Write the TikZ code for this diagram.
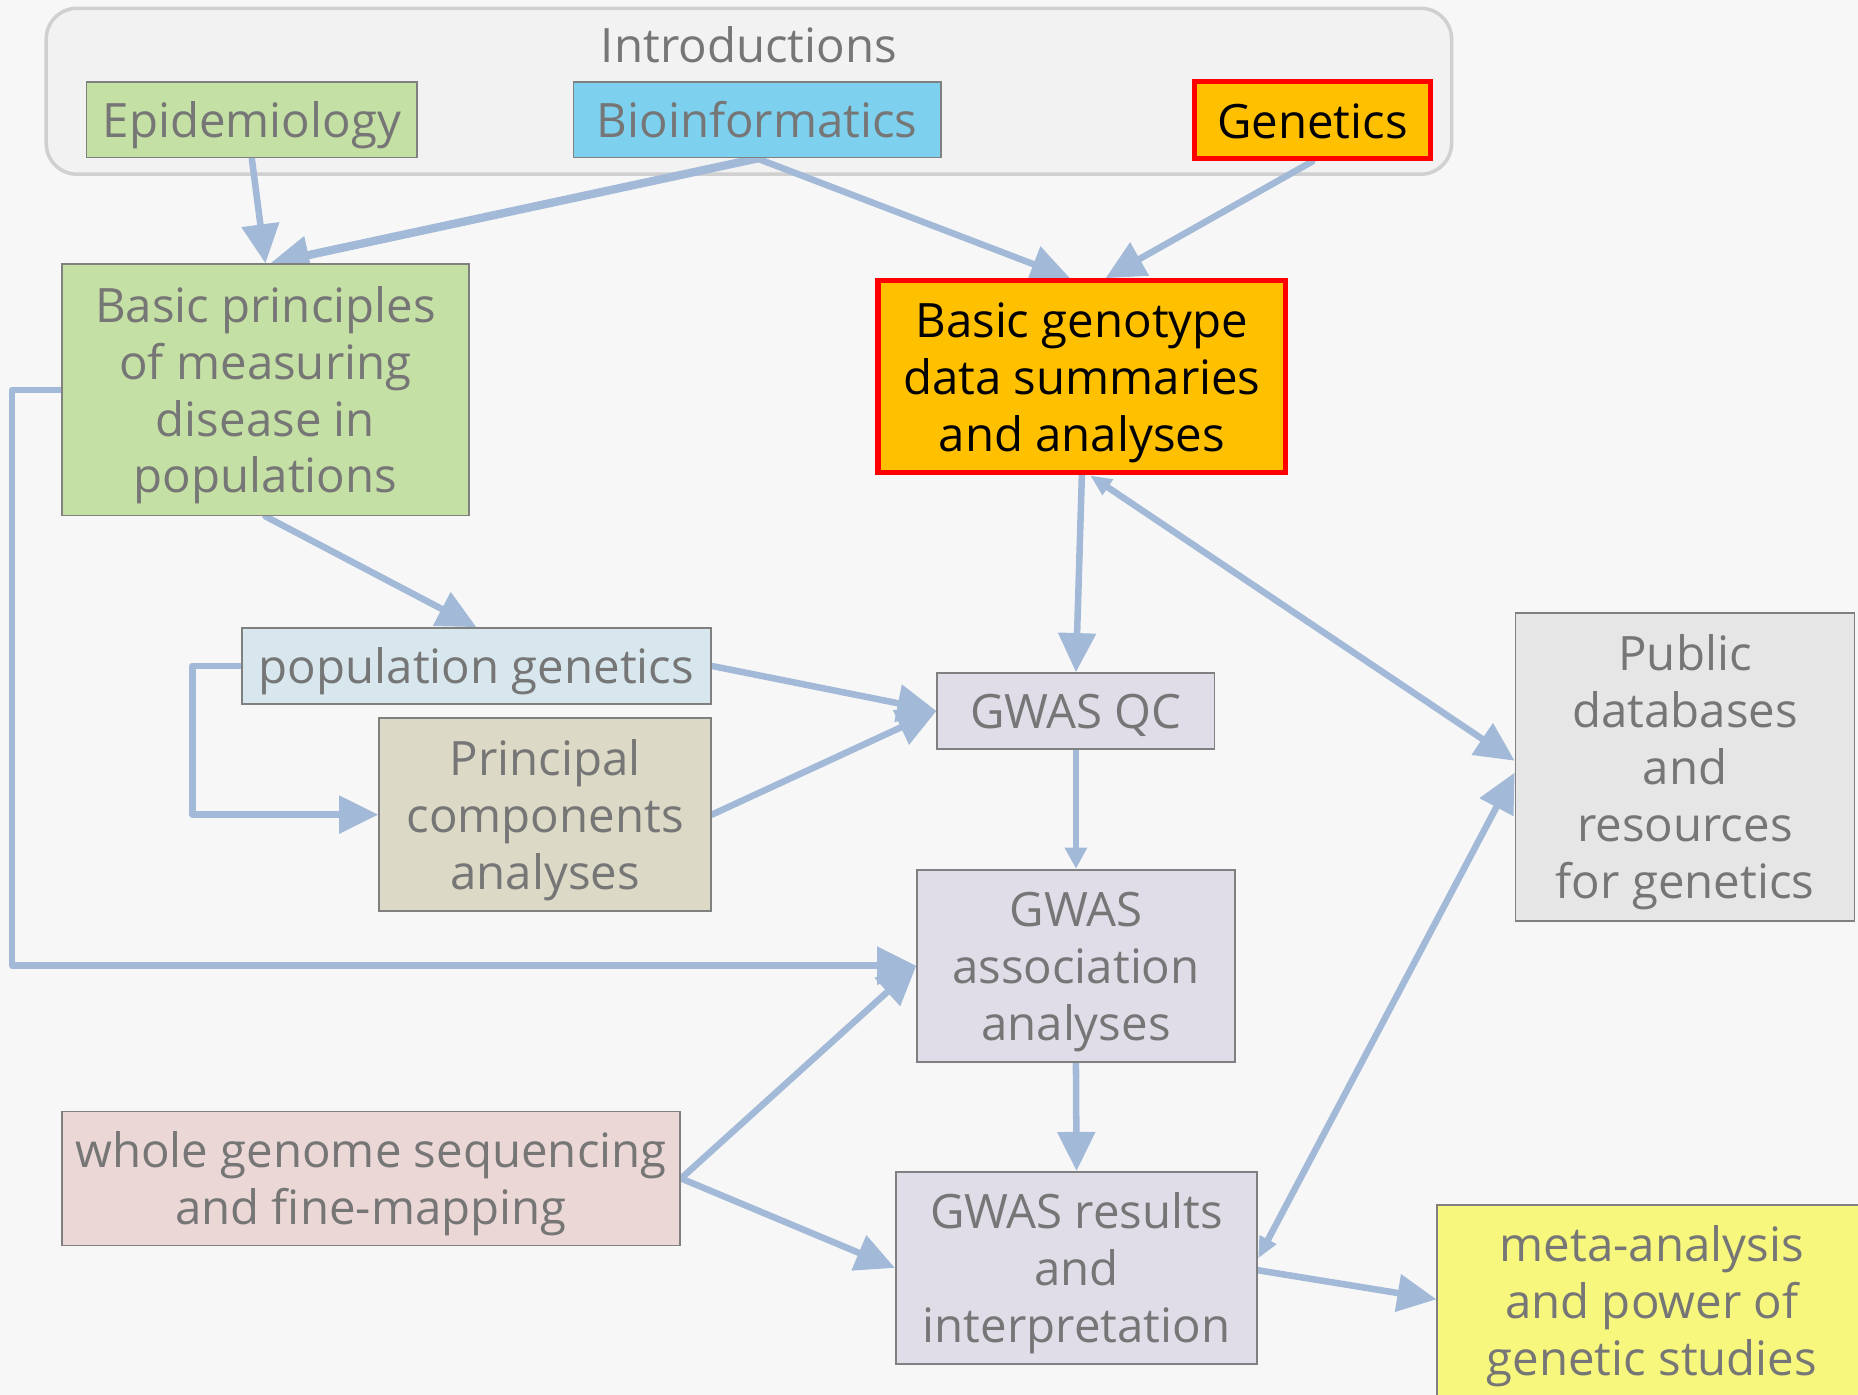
\documentclass[tikz,border=0pt]{standalone}
\usepackage{fontspec}
\setmainfont{Open Sans}
\usetikzlibrary{arrows.meta,calc}
\pgfdeclarelayer{back}
\pgfdeclarelayer{arrows}
\pgfsetlayers{back,arrows,main}
\newcommand\mytop{\rule{0pt}{40pt}}
\newcommand\mybot{\rule[-10pt]{0pt}{0pt}}
\definecolor{pagebg}{RGB}{247,247,247}
\definecolor{contfill}{RGB}{242,242,242}
\definecolor{contline}{RGB}{208,208,208}
\definecolor{txtgray}{RGB}{118,118,118}
\definecolor{boxline}{RGB}{128,128,128}
\definecolor{cgreen}{RGB}{197,224,164}
\definecolor{cblue}{RGB}{126,208,239}
\definecolor{corange}{RGB}{255,192,0}
\definecolor{cred}{RGB}{255,0,0}
\definecolor{cpop}{RGB}{215,231,237}
\definecolor{cpca}{RGB}{220,217,198}
\definecolor{clav}{RGB}{224,220,232}
\definecolor{cpub}{RGB}{230,230,230}
\definecolor{cwgs}{RGB}{236,215,215}
\definecolor{cmeta}{RGB}{247,247,125}
\definecolor{carrow}{RGB}{163,185,216}
\begin{document}
\begin{tikzpicture}[x=1pt,y=-1pt,
  txt/.style={font=\fontsize{40}{48}\selectfont, text=txtgray, align=center},
  box/.style={txt, draw=boxline, line width=1.5pt, inner sep=0pt},
  hotbox/.style={box, draw=cred, line width=4.5pt, fill=corange, text=black},
  conn/.style={draw=carrow, line width=5.5pt, line cap=round, line join=round},
  big/.style={-{Triangle[length=33pt,width=31pt]}},
  small/.style={-{Triangle[length=18pt,width=18pt]}},
  both/.style={{Triangle[length=18pt,width=15pt]}-{Triangle[length=33pt,width=31pt]}}
]
\useasboundingbox (0,0) rectangle (1568,1177);
\begin{pgfonlayer}{back}
\fill[pagebg] (0,0) rectangle (1568,1177);
\node[draw=contline, fill=contfill, line width=3pt, rounded corners=26pt,
  minimum width=1186pt, minimum height=140pt, inner sep=0pt] (intro) at (632,77) {};
\end{pgfonlayer}

\node[txt, inner sep=0pt] (introtitle) at (632,38) {\mytop Introductions\mybot};
\node[box, fill=cgreen, minimum width=279pt, minimum height=64pt] (epi) at (212.5,101) {\mytop Epidemiology\mybot};
\node[box, fill=cblue, minimum width=310pt, minimum height=64pt] (bio) at (639,101) {\mytop Bioinformatics\mybot};
\node[hotbox, minimum width=199pt, minimum height=65pt] (gen) at (1107.5,101.5) {\mytop Genetics\mybot};

\node[box, fill=cgreen, minimum width=344pt, minimum height=212pt] (bp) at (224,329)
  {\mytop Basic principles\\of measuring\\disease in\\populations\mybot};
\node[hotbox, minimum width=344pt, minimum height=162pt] (bg) at (913,318)
  {\mytop Basic genotype\\data summaries\\and analyses\mybot};
\node[box, fill=cpop, minimum width=396pt, minimum height=64pt] (pg) at (402,562) {\mytop population genetics\mybot};
\node[box, fill=cpca, minimum width=280pt, minimum height=163pt] (pca) at (460,687.5)
  {\mytop Principal\\components\\analyses\mybot};
\node[box, fill=clav, minimum width=234pt, minimum height=64pt] (qc) at (908,600) {\mytop GWAS QC\mybot};
\node[box, fill=clav, minimum width=268pt, minimum height=162pt] (assoc) at (908,815)
  {\mytop GWAS\\association\\analyses\mybot};
\node[box, fill=clav, minimum width=305pt, minimum height=162pt] (res) at (908.5,1070)
  {\mytop GWAS results\\and\\interpretation\mybot};
\node[box, fill=cpub, minimum width=286pt, minimum height=260pt] (pub) at (1422,647)
  {\mytop Public\\databases\\and\\resources\\for genetics\mybot};
\node[box, fill=cwgs, minimum width=522pt, minimum height=113pt] (wgs) at (313,994.5)
  {\mytop whole genome sequencing\\and fine-mapping\mybot};
\node[draw=boxline, line width=1.5pt, fill=cmeta, inner sep=0pt, minimum width=387pt, minimum height=193pt] (meta) at (1406.5,1113.5) {};
\node[txt, inner sep=0pt] (metatext) at (1394,1098) {\mytop meta-analysis\\and power of\\genetic studies\mybot};

\begin{pgfonlayer}{arrows}
\draw[conn, big] (epi.south) -- (bp.north);
\draw[conn, big, line width=7pt] (bio.south) -- ($(bp.north)+(4,0)$);
\draw[conn, big] (bio.south) -- ($(bg.north)+(-10,0)$);
\draw[conn, big] (gen.south) -- ($(bg.north)+(20,0)$);
\draw[conn, big] (bp.south) -- (pg.north);
\draw[conn, big] (bp.west) -- ($(bp.west)+(-41,0)$) |- (assoc.west);
\draw[conn, big] (pg.west) -- ($(pg.west)+(-41,0)$) |- (pca.west);
\draw[conn, big] (pg.east) -- (qc.west);
\draw[conn, big] (pca.east) -- (qc.west);
\draw[conn, big] (bg.south) -- (qc.north);
\draw[conn, small] (qc.south) -- (assoc.north);
\draw[conn, big] (assoc.south) -- (res.north);
\draw[conn, big] (wgs.east) -- (assoc.west);
\draw[conn, big] (wgs.east) -- (res.west);
\draw[conn, both] ($(bg.south)+(7,0)$) -- ($(pub.west)+(0,-5)$);
\draw[conn, both] ($(res.east)+(0,-8)$) -- ($(pub.west)+(0,5)$);
\draw[conn, big] ($(res.east)+(0,2)$) -- ($(meta.west)+(0,-17)$);
\end{pgfonlayer}
\end{tikzpicture}
\end{document}
